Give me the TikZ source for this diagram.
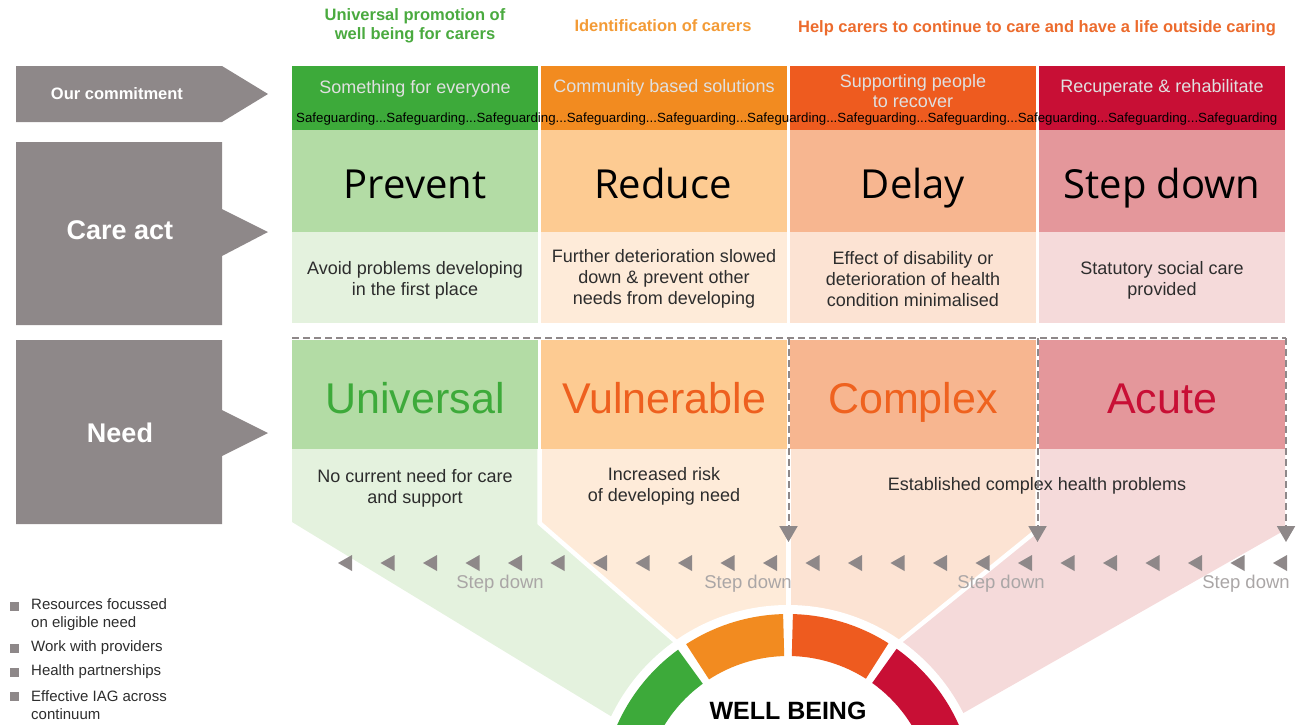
\documentclass[tikz,border=0pt]{standalone}
\usepackage{fontspec}
\setmainfont{Liberation Sans}
\newfontfamily\handfont{Open Sans}
\usepackage{tikz}
\usetikzlibrary{arrows.meta}
\definecolor{tagGrey}{RGB}{142,136,137}
\definecolor{stepGrey}{RGB}{170,166,166}
\definecolor{txt}{RGB}{45,45,45}
\definecolor{gD}{RGB}{61,170,58}
\definecolor{gM}{RGB}{179,220,165}
\definecolor{gL}{RGB}{228,242,222}
\definecolor{oD}{RGB}{242,139,32}
\definecolor{oM}{RGB}{253,203,146}
\definecolor{oL}{RGB}{254,235,217}
\definecolor{rD}{RGB}{238,91,31}
\definecolor{rM}{RGB}{247,182,144}
\definecolor{rL}{RGB}{252,227,211}
\definecolor{cD}{RGB}{200,15,53}
\definecolor{cM}{RGB}{228,151,155}
\definecolor{cL}{RGB}{245,218,218}
\definecolor{tG}{RGB}{74,170,63}
\definecolor{tO}{RGB}{243,155,54}
\definecolor{tR}{RGB}{236,107,45}
\tikzstyle{every node}=[inner sep=0pt]
\tikzstyle{tagtext}=[text=white,font=\bfseries]
\tikzstyle{heading}=[font=\bfseries\fontsize{16.5}{19}\selectfont,align=center]
\tikzstyle{promise}=[text=white!88!black,font=\fontsize{18}{20}\selectfont,align=center]
\tikzstyle{act}=[anchor=base,font=\handfont\fontsize{40}{44}\selectfont]
\tikzstyle{desc}=[text=txt,font=\fontsize{18}{21}\selectfont,align=center]
\tikzstyle{needhead}=[anchor=base,font=\fontsize{43}{48}\selectfont]
\tikzstyle{dashline}=[draw=tagGrey,line width=2pt,dash pattern=on 7pt off 4pt]
\tikzstyle{dasharrow}=[dashline,-{Triangle[width=18pt,length=16pt]}]
\tikzstyle{stepdown}=[text=stepGrey,font=\fontsize{18.5}{21}\selectfont]
\tikzstyle{sep}=[white,line width=4.5pt]
\tikzstyle{legend}=[anchor=west,text=txt,font=\fontsize{15}{18}\selectfont,align=left]

\begin{document}
\begin{tikzpicture}[x=1pt,y=-1pt]
\useasboundingbox (0,0) rectangle (1306,724);

\node[heading,text=tG] (h_1) at (415,26) {Universal promotion of\\well being for carers};
\node[heading,text=tO] (h_2) at (663,26) {Identification of carers};
\node[heading,text=tR] (h_3) at (1037,28) {Help carers to continue to care and have a life outside caring};

% grey row tags
\fill[tagGrey] (16,66) -- (222,66) -- (268,94) -- (222,122) -- (16,122) -- cycle;
\fill[tagGrey] (16,142) -- (222,142) -- (222,209) -- (268,232) -- (222,256) -- (222,325) -- (16,325) -- cycle;
\fill[tagGrey] (16,340) -- (222,340) -- (222,410) -- (268,433) -- (222,456) -- (222,524) -- (16,524) -- cycle;
\node[tagtext,font=\bfseries\fontsize{16.5}{18}\selectfont] (t_1) at (117,94) {Our commitment};
\node[tagtext,font=\bfseries\fontsize{27}{30}\selectfont] (t_2) at (120,230) {Care act};
\node[tagtext,font=\bfseries\fontsize{27}{30}\selectfont] (t_3) at (120,433) {Need};

% funnel
\coordinate (C) at (788,801);
\fill[gL] (292,449) -- (539.5,449) -- (539.5,523) -- (705,667) -- (C) -- (650,740) -- (292,522) -- cycle;
\fill[oL] (539.5,449) -- (788.5,449) -- (788.5,650) -- (C) -- (705,667) -- (539.5,523) -- cycle;
\fill[rL] (788.5,449) -- (1037.5,449) -- (1037.5,530) -- (872,664) -- (C) -- (788.5,650) -- cycle;
\fill[cL] (1037.5,449) -- (1285,449) -- (1285,530) -- (930,732) -- (C) -- (872,664) -- (1037.5,530) -- cycle;
\draw[sep] (539.5,449) -- (539.5,523) -- (705,667);
\draw[sep] (788.5,449) -- (788.5,650);
\draw[sep] (1037.5,449) -- (1037.5,530) -- (872,664);

\foreach \l/\d/\m/\s in {292/gD/gM/gL,541/oD/oM/oL,790/rD/rM/rL,1039/cD/cM/cL}{
  \fill[\d] (\l,66) rectangle ++(246,64);
  \fill[\m] (\l,130) rectangle ++(246,102);
  \fill[\s] (\l,232) rectangle ++(246,91);
  \fill[\m] (\l,340) rectangle ++(246,109);
}

\node[promise] (c_1) at (415,89) {Something for everyone};
\node[promise] (c_2) at (664,88) {Community based solutions};
\node[promise] (c_3) at (913,91) {Supporting people\\to recover};
\node[promise] (c_4) at (1162,88) {Recuperate \& rehabilitate};
\node[anchor=west,font=\fontsize{13.3}{15}\selectfont] (sg) at (296,119)
  {Safeguarding...Safeguarding...Safeguarding...Safeguarding...Safeguarding...Safeguarding...Safeguarding...Safeguarding...Safeguarding...Safeguarding...Safeguarding};

\node[act] (a_1) at (415,198) {Prevent};
\node[act] (a_2) at (663,198) {Reduce};
\node[act] (a_3) at (913,198) {Delay};
\node[act] (a_4) at (1162,198) {Step down};

\node[desc] (d_1) at (415,280) {Avoid problems developing\\in the first place};
\node[desc] (d_2) at (664,279) {Further deterioration slowed\\down \& prevent other\\needs from developing};
\node[desc] (d_3) at (913,279) {Effect of disability or\\deterioration of health\\condition minimalised};
\node[desc] (d_4) at (1162,280) {Statutory social care\\provided};

\node[needhead,text=gD] (n_1) at (415,413) {Universal};
\node[needhead,text=rD!90!oD] (n_2) at (664,413) {Vulnerable};
\node[needhead,text=rD!85!oD] (n_3) at (913,413) {Complex};
\node[needhead,text=cD] (n_4) at (1162,413) {Acute};

\node[desc] (e_1) at (415,488) {No current need for care\\and support};
\node[desc] (e_2) at (664,486) {Increased risk\\of developing need};
\node[desc] (e_3) at (1037,486) {Established complex health problems};

% gauge
\fill[white] (C) circle[radius=196];
\fill[gD] ([shift={(-126:187)}]C) arc[start angle=-126,end angle=-162,radius=187] -- ([shift={(-162:145)}]C) arc[start angle=-162,end angle=-126,radius=145] -- cycle;
\fill[oD] ([shift={(-91.5:187)}]C) arc[start angle=-91.5,end angle=-123,radius=187] -- ([shift={(-123:145)}]C) arc[start angle=-123,end angle=-91.5,radius=145] -- cycle;
\fill[rD] ([shift={(-57.5:187)}]C) arc[start angle=-57.5,end angle=-88.5,radius=187] -- ([shift={(-88.5:145)}]C) arc[start angle=-88.5,end angle=-57.5,radius=145] -- cycle;
\fill[cD] ([shift={(-18:187)}]C) arc[start angle=-18,end angle=-54.5,radius=187] -- ([shift={(-54.5:145)}]C) arc[start angle=-54.5,end angle=-18,radius=145] -- cycle;
\node[font=\bfseries\fontsize{25}{28}\selectfont] (wb) at (788,711) {WELL BEING};

% step down
\coordinate (p_0) at (292,338);
\coordinate (p_1) at (788.5,338);
\coordinate (p_2) at (1037.5,338);
\coordinate (p_3) at (1286,338);
\coordinate (q_1) at (788.5,542);
\coordinate (q_2) at (1037.5,542);
\coordinate (q_3) at (1286,542);
\draw[dashline] (p_0) -- (p_3);
\draw[dasharrow] (p_1) -- (q_1);
\draw[dasharrow] (p_2) -- (q_2);
\draw[dasharrow] (p_3) -- (q_3);
\foreach \i in {0,...,22}
  \fill[tagGrey] ({338+42.5*\i},563) -- ++(14,-8) -- ++(0,16) -- cycle;
\node[stepdown] (s_1) at (500,584) {Step down};
\node[stepdown] (s_2) at (748,584) {Step down};
\node[stepdown] (s_3) at (1001,584) {Step down};
\node[stepdown] (s_4) at (1246,584) {Step down};

% legend
\foreach \y in {606,648,672,696}
  \fill[tagGrey] (10,\y-4.5) rectangle ++(9,9);
\node[legend] (l_1) at (31,615) {Resources focussed\\on eligible need};
\node[legend] (l_2) at (31,648) {Work with providers};
\node[legend] (l_3) at (31,672) {Health partnerships};
\node[legend] (l_4) at (31,705) {Effective IAG across\\continuum};
\end{tikzpicture}
\end{document}
